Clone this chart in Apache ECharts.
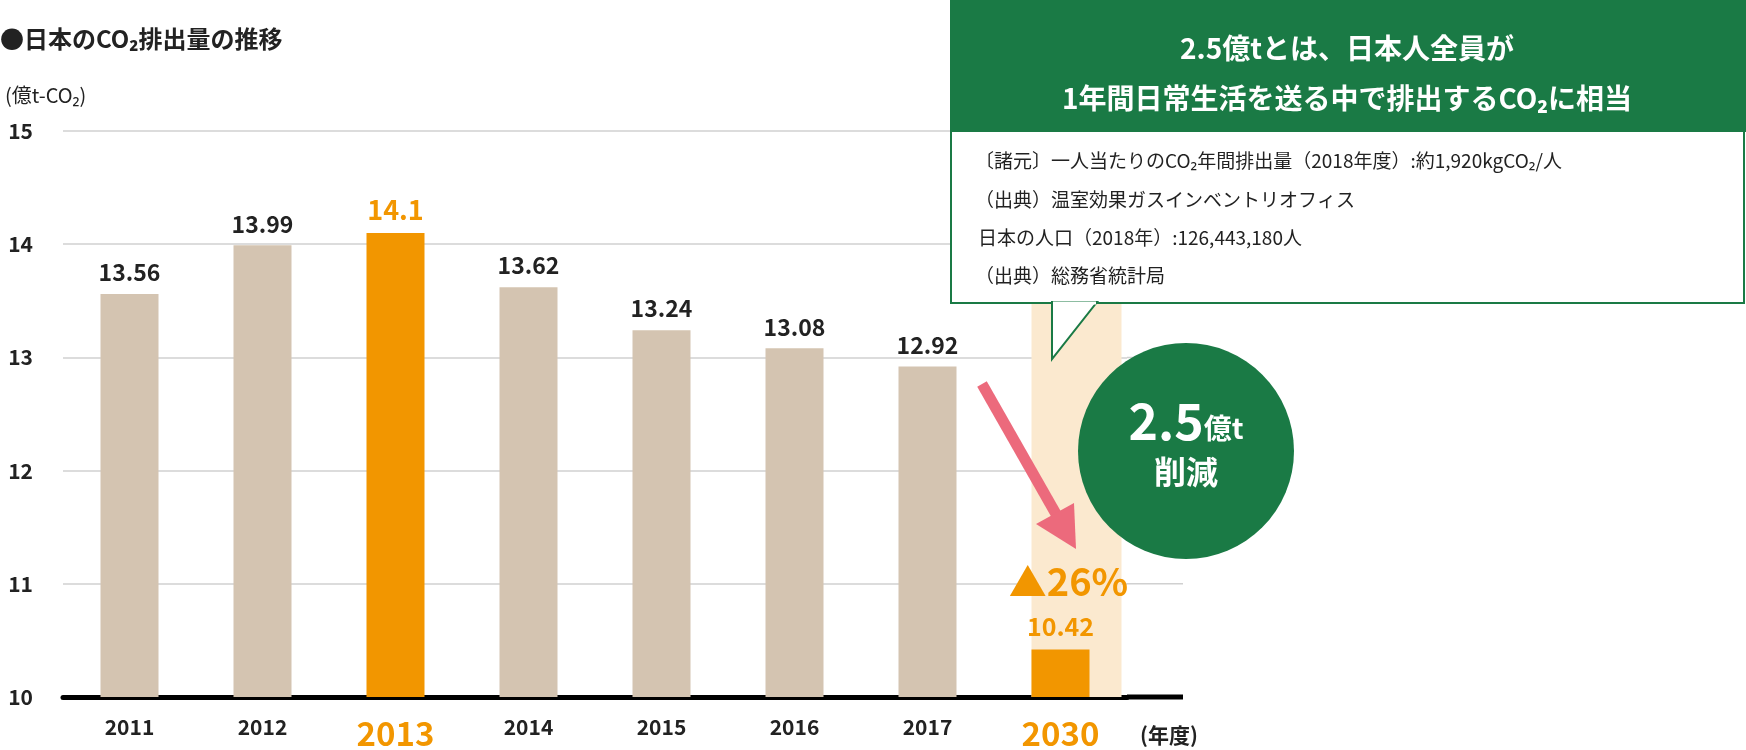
<!DOCTYPE html>
<html><head><meta charset="utf-8">
<script src="https://cdn.jsdelivr.net/npm/echarts@6/dist/echarts.min.js"></script>
<style>html,body{margin:0;padding:0;background:#fff}#c{width:1746px;height:750px}</style>
</head><body><div id="c"></div>
<script>
const categories = ['2011','2012','2013','2014','2015','2016','2017','2030'];
const emissions = [13.56,13.99,14.10,13.62,13.24,13.08,12.92,10.42];
const yTicks = [10,11,12,13,14,15];
const highlight = ['2013','2030'];
const F = '"Noto Sans CJK JP","Noto Sans",sans-serif';
const BEIGE='#d4c4b1', ORANGE='#f29600', GREEN='#1a7a45';

const chart = echarts.init(document.getElementById('c'));
const barData = emissions.map((v,i)=>{
  const h = highlight.includes(categories[i]);
  return {value:v, itemStyle:{color:h?ORANGE:BEIGE},
    label:{color:h?ORANGE:'#222', fontSize:h?(categories[i]==='2013'?27:25):23}};
});
const bandData = categories.map(c=>c==='2030'?yTicks[yTicks.length-1]:null);
chart.setOption({
  animation:false,
  grid:{left:63,width:1064,top:131,height:569},
  xAxis:{type:'category',data:categories.map(c=>highlight.includes(c)?
      {value:c,textStyle:{color:ORANGE,fontSize:33,fontWeight:'bold'}}:{value:c}),
    axisLine:{lineStyle:{color:'#000',width:5}},axisTick:{show:false},
    axisLabel:{color:'#222',fontSize:21,fontWeight:'bold',fontFamily:F,margin:20}},
  yAxis:{type:'value',min:10,max:15,interval:1,
    axisLabel:{color:'#222',fontSize:21,fontFamily:F,margin:30,fontWeight:'bold'},
    splitLine:{lineStyle:{color:'#d0d0d0',width:1.5}}},
  series:[
    {type:'bar',data:bandData,barWidth:90,itemStyle:{color:'#fbe9cf'},z:1,silent:true},
    {type:'bar',data:barData,barWidth:58,barGap:'-100%',z:2,
     label:{show:true,position:'top',distance:10,fontWeight:'bold',fontFamily:F}}
  ]
});
// extend baseline & gridlines to the right
const g=[];
const xr=1183;
yTicks.forEach(t=>{
  const y=chart.convertToPixel({yAxisIndex:0},t);
  if(t===10) g.push({type:'line',shape:{x1:1127,y1:y,x2:xr,y2:y},style:{stroke:'#000',lineWidth:5},z:5});
  else g.push({type:'line',shape:{x1:1127,y1:y,x2:xr,y2:y},style:{stroke:'#d0d0d0',lineWidth:1.5},z:0});
});
const bx=chart.convertToPixel({xAxisIndex:0},'2030');
const b26=chart.convertToPixel({yAxisIndex:0},11);
g.push(
 {type:'text',style:{x:0,y:39,text:'●日本のCO₂排出量の推移',fontSize:24,fontWeight:'bold',fontFamily:F,fill:'#222',verticalAlign:'middle'}},
 {type:'text',style:{x:5,y:95,text:'(億t-CO₂)',fontSize:20,fontFamily:F,fill:'#222',verticalAlign:'middle'}},
 {type:'text',style:{x:1140,y:735,text:'(年度)',fontSize:21,fontWeight:'bold',fontFamily:F,fill:'#222',verticalAlign:'middle'}},
 {type:'text',style:{x:bx+8,y:b26-2,text:'▲26%',fontSize:38,fontWeight:'bold',fontFamily:F,fill:ORANGE,align:'center',verticalAlign:'middle'},z:10},
 // callout
 {type:'rect',shape:{x:951,y:131,width:793,height:172},style:{fill:'#fff',stroke:GREEN,lineWidth:2},z:20},
 {type:'polygon',shape:{points:[[1052,302],[1097,302],[1052,359]]},style:{fill:'#fff',stroke:GREEN,lineWidth:2},z:20},
 {type:'line',shape:{x1:1053,y1:303,x2:1096,y2:303},style:{stroke:'#fff',lineWidth:3},z:21},
 {type:'rect',shape:{x:950,y:0,width:796,height:132},style:{fill:GREEN},z:22},
 {type:'text',style:{x:1347,y:48,text:'2.5億tとは、日本人全員が',fontSize:28,fontWeight:'bold',fontFamily:F,fill:'#fff',align:'center',verticalAlign:'middle'},z:23},
 {type:'text',style:{x:1347,y:98,text:'1年間日常生活を送る中で排出するCO₂に相当',fontSize:28,fontWeight:'bold',fontFamily:F,fill:'#fff',align:'center',verticalAlign:'middle'},z:23},
 {type:'text',style:{x:975,y:161,text:'〔諸元〕一人当たりのCO₂年間排出量（2018年度）:約1,920kgCO₂/人',fontSize:19,fontFamily:F,fill:'#222',verticalAlign:'middle'},z:23},
 {type:'text',style:{x:975,y:200,text:'（出典）温室効果ガスインベントリオフィス',fontSize:19,fontFamily:F,fill:'#222',verticalAlign:'middle'},z:23},
 {type:'text',style:{x:978,y:238,text:'日本の人口（2018年）:126,443,180人',fontSize:19,fontFamily:F,fill:'#222',verticalAlign:'middle'},z:23},
 {type:'text',style:{x:975,y:276,text:'（出典）総務省統計局',fontSize:19,fontFamily:F,fill:'#222',verticalAlign:'middle'},z:23},
 // circle
 {type:'circle',shape:{cx:1186,cy:451,r:108},style:{fill:GREEN},z:24},
 {type:'text',style:{x:1186,y:421,text:'{a|2.5}{b|億t}',align:'center',verticalAlign:'middle',
   rich:{a:{fontSize:50,fontWeight:'bold',fontFamily:F,fill:'#fff',color:'#fff'},b:{fontSize:28,fontWeight:'bold',fontFamily:F,fill:'#fff',color:'#fff',padding:[14,0,0,0]}}},z:25},
 {type:'text',style:{x:1186,y:472,text:'削減',fontSize:32,fontWeight:'bold',fontFamily:F,fill:'#fff',align:'center',verticalAlign:'middle'},z:25},
 // arrow
 {type:'line',shape:{x1:982,y1:384,x2:1056,y2:514},style:{stroke:'#ec6a7c',lineWidth:11},z:15},
 {type:'polygon',shape:{points:[[1076,549],[1036,524],[1074,503]]},style:{fill:'#ec6a7c'},z:15}
);
chart.setOption({graphic:g});
</script></body></html>
